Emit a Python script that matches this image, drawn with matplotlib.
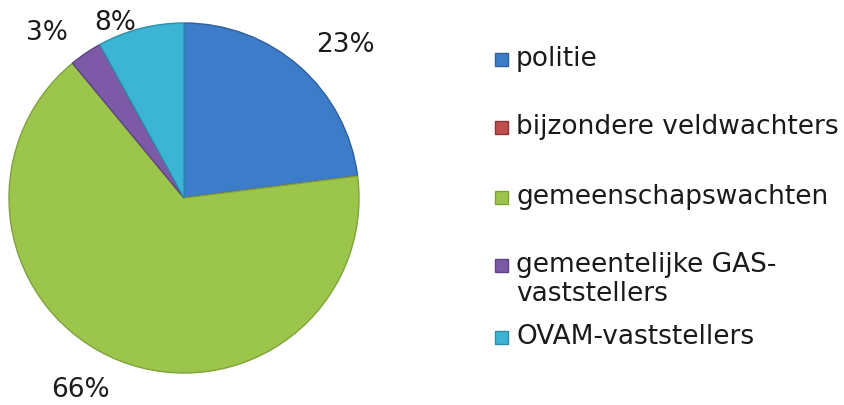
import matplotlib.pyplot as plt
from matplotlib.patches import Rectangle

# data
categories = ['politie', 'bijzondere veldwachters', 'gemeenschapswachten',
              'gemeentelijke GAS-\nvaststellers', 'OVAM-vaststellers']
shares = [23, 0, 66, 3, 8]
colors = ['#3d7cc9', '#c0504d', '#9cc64b', '#7d5aa8', '#3cb5d5']
edges = ['#2f5f9a', '#8c3532', '#7ea23a', '#5e4282', '#2b8ea8']

fig = plt.figure(figsize=(8.44, 4.05), dpi=100)
ax = fig.add_axes([0, 0, 1, 1])

# pie drawn in pixel-like coordinates (origin bottom-left)
wedges, texts = ax.pie(shares, colors=colors, startangle=90, counterclock=False,
                       center=(184, 207), radius=175,
                       labels=[f'{v}%' if v > 0 else '' for v in shares],
                       labeldistance=1.25,
                       wedgeprops=dict(linewidth=1.0),
                       textprops=dict(fontsize=19, color='#1a1a1a'))
for w, ec in zip(wedges, edges):
    w.set_edgecolor(ec)

# nudge labels to where the original puts them
label_pos = [(345, 360), None, (80, 15), (47, 372), (115, 382)]
for t, p in zip(texts, label_pos):
    if p is not None:
        t.set_position(p)
        t.set_ha('center')
        t.set_va('center')

ax.set_xlim(0, 844)
ax.set_ylim(0, 405)
ax.set_aspect('equal')
ax.axis('off')

# legend, laid out by hand like the original
leg_y = [346, 278, 208, 140, 68]
for lab, c, ec, y in zip(categories, colors, edges, leg_y):
    ax.add_patch(Rectangle((495, y - 7), 13, 13, facecolor=c, edgecolor=ec,
                           linewidth=1, clip_on=False))
    first = lab.split('\n')[0]
    ax.text(516, y, first, fontsize=19, va='center', ha='left', color='#1a1a1a')
    if '\n' in lab:
        ax.text(516, y - 29, lab.split('\n')[1], fontsize=19, va='center',
                ha='left', color='#1a1a1a')

fig.savefig('out.png', dpi=100)
